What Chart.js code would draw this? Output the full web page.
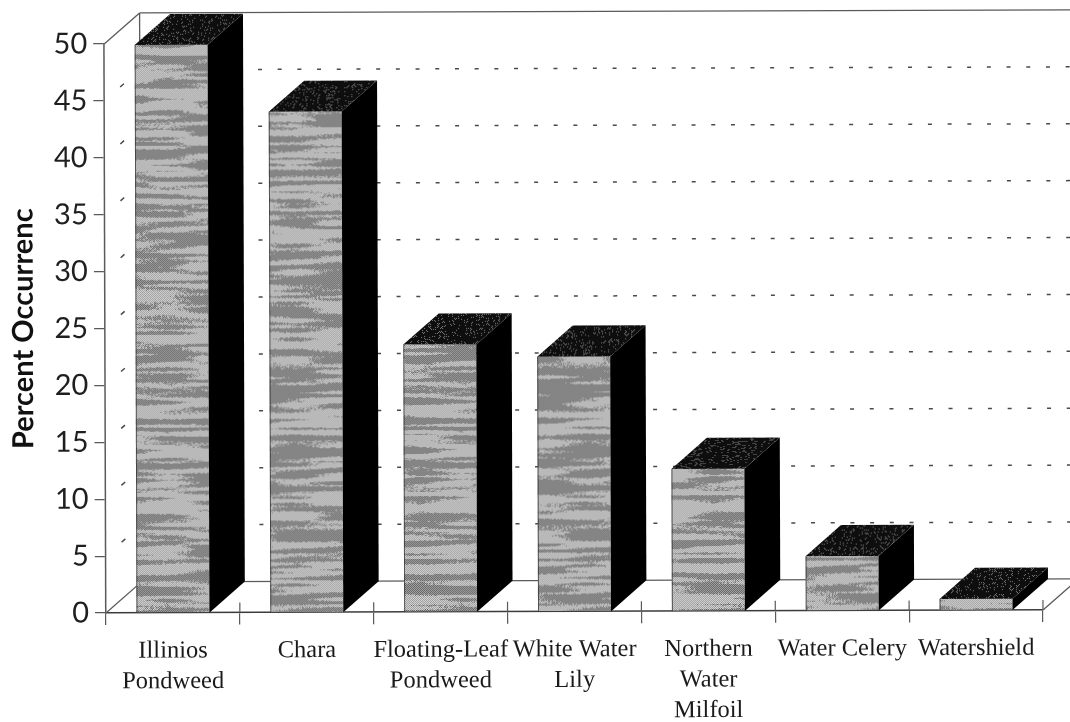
<!DOCTYPE html>
<html>
<head>
<meta charset="utf-8">
<title>Percent Occurrence of Aquatic Plants</title>
<script src="https://cdn.jsdelivr.net/npm/chart.js@4"></script>
<style>
  html, body { margin: 0; padding: 0; background: #fff; overflow: hidden; }
  canvas { display: block; }
</style>
</head>
<body>
<canvas id="chart" width="1070" height="722"></canvas>
<script>
// Plant species along the category axis (each inner array is one wrapped label).
const categories = [
  ["Illinios", "Pondweed"],
  ["Chara"],
  ["Floating-Leaf", "Pondweed"],
  ["White Water", "Lily"],
  ["Northern", "Water", "Milfoil"],
  ["Water Celery"],
  ["Watershield"]
];
const percentOccurrence = [49.9, 44, 23.5, 22.4, 12.5, 4.8, 1];
const axisTitle = "Percent Occurrenc";
const yMax = 50;
const yStep = 5;

// Depth of the pseudo-3D box and of the walls behind it.
const depthX = 35.5;
const depthY = 31;
// Slight counter-clockwise skew of the whole figure, in radians.
const skew = -0.0032;

// Small deterministic generator used only for surface textures.
function makeRng(seed) {
  let s = seed >>> 0;
  return () => { s = (Math.imul(s, 1664525) + 1013904223) >>> 0; return s / 4294967296; };
}

// Horizontally streaked halftone used on the front faces.
function streakPattern() {
  const cellW = 42, cellH = 3, cols = 7, rows = 200;
  const w = cellW * cols, h = cellH * rows;
  const c = document.createElement("canvas");
  c.width = w; c.height = h;
  const g = c.getContext("2d");
  const rng = makeRng(7);
  const grid = [];
  for (let i = 0; i < rows * cols; i++) grid.push(rng());
  const img = g.createImageData(w, h);
  for (let y = 0; y < h; y++) {
    for (let x = 0; x < w; x++) {
      const fx = x / cellW, fy = y / cellH;
      const ix = Math.floor(fx), iy = Math.floor(fy);
      const tx = fx - ix, ty = fy - iy;
      const at = (a, b) => grid[((b % rows) * cols + (a % cols))];
      const v = (at(ix, iy) * (1 - tx) + at(ix + 1, iy) * tx) * (1 - ty) +
                (at(ix, iy + 1) * (1 - tx) + at(ix + 1, iy + 1) * tx) * ty;
      const dark = v + (rng() - 0.5) * 0.22 < 0.47;
      const even = (x + y) % 2 === 0;
      const tone = dark ? (even ? 165 : 100) : (even ? 212 : 158);
      const p = (y * w + x) * 4;
      img.data[p] = img.data[p + 1] = img.data[p + 2] = tone;
      img.data[p + 3] = 255;
    }
  }
  g.putImageData(img, 0, 0);
  return g.createPattern(c, "repeat");
}

// Near-black stipple used on the top faces.
function stipplePattern() {
  const w = 128, h = 128;
  const c = document.createElement("canvas");
  c.width = w; c.height = h;
  const g = c.getContext("2d");
  const rng = makeRng(21);
  const img = g.createImageData(w, h);
  for (let i = 0; i < w * h; i++) {
    const x = i % w, y = Math.floor(i / w);
    const speck = rng() < 0.2 && (x + y) % 2 === 0;
    const tone = speck ? 125 : 14;
    img.data[i * 4] = img.data[i * 4 + 1] = img.data[i * 4 + 2] = tone;
    img.data[i * 4 + 3] = 255;
  }
  g.putImageData(img, 0, 0);
  return g.createPattern(c, "repeat");
}

const frontFill = streakPattern();
const topFill = stipplePattern();

// Applies the figure's skew around the origin of the axes for the whole draw.
const skewPlugin = {
  id: "figureSkew",
  beforeDraw(chart) {
    const { ctx, chartArea } = chart;
    ctx.save();
    ctx.translate(chartArea.left, chartArea.bottom);
    ctx.rotate(skew);
    ctx.translate(-chartArea.left, -chartArea.bottom);
  },
  afterDraw(chart) { chart.ctx.restore(); }
};

// Walls, floor and dashed grid behind the bars.
const wallsPlugin = {
  id: "walls",
  beforeDatasetsDraw(chart) {
    const { ctx, chartArea: a, scales: { x, y } } = chart;
    ctx.save();
    ctx.strokeStyle = "#5a5a5a";
    ctx.lineWidth = 1.3;
    const line = (x0, y0, x1, y1) => {
      ctx.beginPath(); ctx.moveTo(x0, y0); ctx.lineTo(x1, y1); ctx.stroke();
    };
    const backL = a.left + depthX, backR = a.right + depthX;
    const topBack = y.getPixelForValue(yMax) - depthY;
    const floorBack = a.bottom - depthY;
    line(a.left, y.getPixelForValue(yMax), backL, topBack);
    line(backL, topBack, backR, topBack);
    line(backL, topBack, backL, floorBack);
    line(a.left, a.bottom, backL, floorBack);
    line(backL, floorBack, backR, floorBack);
    line(a.right, a.bottom, backR, floorBack);

    ctx.lineWidth = 1.5;
    ctx.strokeStyle = "#4a4a4a";
    y.ticks.forEach(t => {
      if (t.value === 0 || t.value === yMax) return;
      const py = y.getPixelForValue(t.value);
      ctx.setLineDash([4, 15.7]);
      line(backL, py - depthY, backR, py - depthY);
      // One short mark midway along the side wall.
      ctx.setLineDash([0, 21, 5, 100]);
      line(a.left, py, backL, py - depthY);
    });
    ctx.restore();
  },
  afterDatasetsDraw(chart) {
    const { ctx, chartArea: a, scales: { x } } = chart;
    const bars = chart.getDatasetMeta(0).data;
    ctx.save();
    bars.forEach(b => {
      const x0 = b.x - b.width / 2, x1 = b.x + b.width / 2;
      ctx.fillStyle = "#000";
      ctx.beginPath();
      ctx.moveTo(x1, b.y);
      ctx.lineTo(x1 + depthX, b.y - depthY);
      ctx.lineTo(x1 + depthX, a.bottom - depthY);
      ctx.lineTo(x1, a.bottom);
      ctx.closePath();
      ctx.fill();
      ctx.fillStyle = topFill;
      ctx.beginPath();
      ctx.moveTo(x0, b.y);
      ctx.lineTo(x0 + depthX, b.y - depthY);
      ctx.lineTo(x1 + depthX, b.y - depthY);
      ctx.lineTo(x1, b.y);
      ctx.closePath();
      ctx.fill();
      // Thin dark edge on the left of each front face.
      ctx.strokeStyle = "rgba(40,40,40,0.7)";
      ctx.lineWidth = 1;
      ctx.beginPath();
      ctx.moveTo(x0 + 0.5, b.y);
      ctx.lineTo(x0 + 0.5, a.bottom);
      ctx.stroke();
    });
    // Category separators rise a little above the front edge of the floor.
    const band = x.width / categories.length;
    ctx.strokeStyle = "#5a5a5a";
    ctx.lineWidth = 1.2;
    for (let i = 1; i <= categories.length; i++) {
      const px = a.left + band * i;
      ctx.beginPath();
      ctx.moveTo(px, a.bottom - 10);
      ctx.lineTo(px, a.bottom);
      ctx.stroke();
    }
    ctx.restore();
  }
};

new Chart(document.getElementById("chart"), {
  type: "bar",
  data: {
    labels: categories,
    datasets: [{
      data: percentOccurrence,
      backgroundColor: frontFill,
      borderWidth: 0,
      categoryPercentage: 1,
      barPercentage: 0.545
    }]
  },
  plugins: [skewPlugin, wallsPlugin],
  options: {
    responsive: false,
    animation: false,
    layout: { padding: { top: 44, left: 7, right: 27, bottom: 0 } },
    plugins: { legend: { display: false }, tooltip: { enabled: false } },
    scales: {
      x: {
        afterFit(scale) { scale.height = 109; },
        grid: { offset: true, drawOnChartArea: false, drawTicks: true, tickLength: 12, color: "#5a5a5a", lineWidth: 1.2 },
        border: { display: true, color: "#3c3c3c", width: 1.6 },
        ticks: {
          maxRotation: 0, minRotation: 0, autoSkip: false, padding: 11, color: "#1a1a1a",
          font: { family: "'Liberation Serif', serif", size: 24.5, lineHeight: 1.25 }
        }
      },
      y: {
        min: 0,
        max: yMax,
        afterFit(scale) { scale.width = 99; },
        grid: { drawOnChartArea: false, drawTicks: true, tickLength: 11, color: "#5a5a5a", lineWidth: 1.2 },
        border: { display: true, color: "#5a5a5a", width: 1.5 },
        ticks: {
          stepSize: yStep, padding: 6, color: "#1f1f1f",
          font: { family: "Lato, sans-serif", size: 29 }
        },
        title: {
          display: true, text: axisTitle, color: "#111", padding: { top: 0, bottom: 0 },
          font: { family: "Lato, sans-serif", size: 29, weight: "bold" }
        }
      }
    }
  }
});
</script>
</body>
</html>
